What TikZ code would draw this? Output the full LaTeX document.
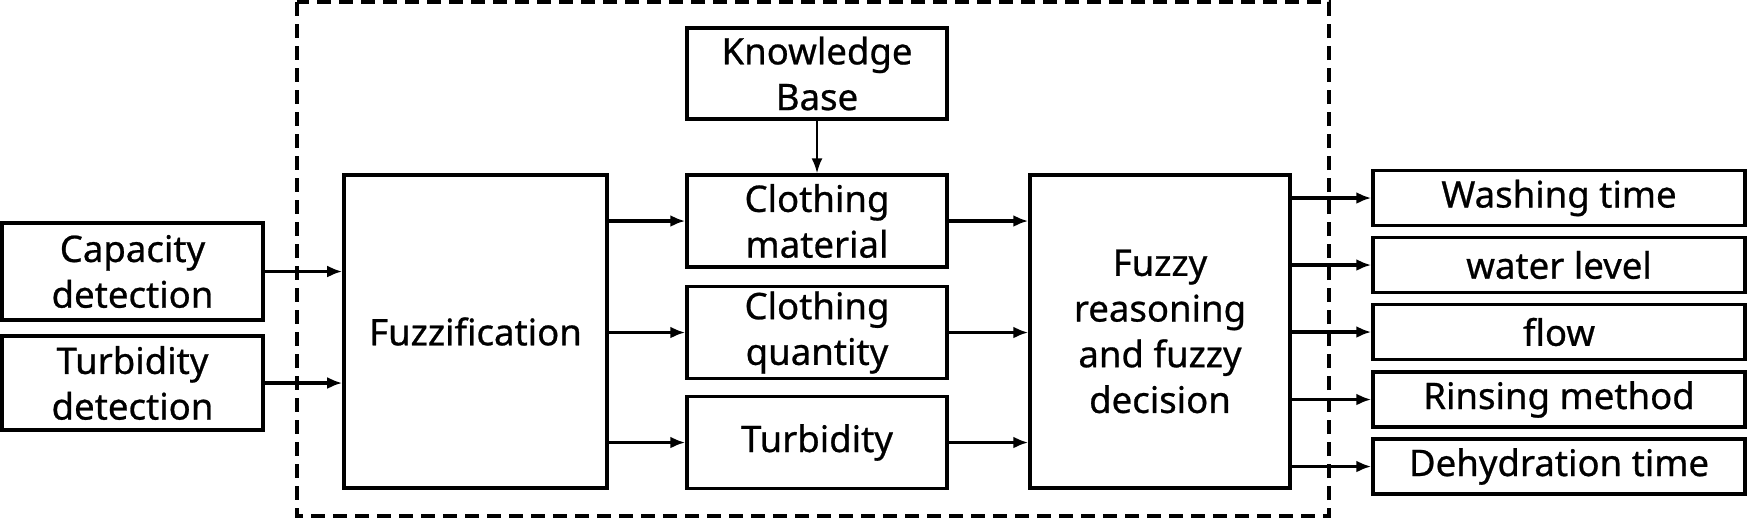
\documentclass[tikz,border=0pt]{standalone}
\usepackage{fontspec}
\setmainfont{Noto Sans}[FakeBold=0.7]
\usetikzlibrary{arrows.meta, positioning, calc}
\tikzset{
  block/.style={
    rectangle, draw=black, fill=white, line width=2pt,
    minimum width=5.2cm, minimum height=1.84cm,
    align=center, inner sep=2pt,
    font=\fontsize{20.8}{26}\selectfont\addfontfeatures{FakeBold=0.7},
  },
  bigblock/.style={block, minimum height=6.26cm},
  outblock/.style={block, minimum width=7.44cm, minimum height=1.1cm},
  arrow/.style={
    -{Latex[length=3mm, width=2.4mm]}, line width=1.8pt, draw=black,
  },
  thinarrow/.style={
    -{Latex[length=3mm, width=2.2mm]}, line width=1.2pt, draw=black,
  },
  frame/.style={
    line width=2pt, draw=black, dash pattern=on 0.28cm off 0.16cm,
  }
}

\begin{document}
\begin{tikzpicture}

  \useasboundingbox (0,0) rectangle (34.94,-10.38);

  % controller boundary
  \draw[frame] (5.94,-0.04) rectangle (26.58,-10.32);

  % inputs
  \node[block, minimum width=5.22cm, minimum height=1.94cm] (cap) at (2.65,-5.43)
    {Capacity\\detection};
  \node[block, minimum width=5.22cm, minimum height=1.88cm] (turb) at (2.65,-7.66)
    {Turbidity\\detection};

  \node[bigblock, minimum width=5.26cm] (fuzz) at (9.51,-6.63) {Fuzzification};

  % fuzzy variables
  \node[block, minimum height=1.82cm] (kb) at (16.34,-1.47) {Knowledge\\Base};
  \node[block] (cmat) at (16.34,-4.42) {Clothing\\material};
  \node[block] (cqty) at (16.34,-6.65) {Clothing\\quantity};
  \node[block] (ctrb) at (16.34,-8.85) {Turbidity};

  \node[bigblock] (dec) at (23.2,-6.63) {Fuzzy\\reasoning\\and fuzzy\\decision};

  % outputs
  \node[outblock] (wtime) at (31.18,-3.96) {Washing time};
  \node[outblock] (wlev)  at (31.18,-5.30) {water level};
  \node[outblock] (flow)  at (31.18,-6.64) {flow};
  \node[outblock] (rinse) at (31.18,-7.99) {Rinsing method};
  \node[outblock] (dehy)  at (31.18,-9.33) {Dehydration time};

  \draw[arrow] (cap.east) -- (cap.east -| fuzz.west);
  \draw[arrow] (turb.east) -- (turb.east -| fuzz.west);

  \draw[arrow] (fuzz.east |- cmat) -- (cmat.west);
  \draw[arrow] (fuzz.east |- cqty) -- (cqty.west);
  \draw[arrow] (fuzz.east |- ctrb) -- (ctrb.west);

  \draw[thinarrow] (kb.south) -- (cmat.north);

  \draw[arrow] (cmat.east) -- (cmat.east -| dec.west);
  \draw[arrow] (cqty.east) -- (cqty.east -| dec.west);
  \draw[arrow] (ctrb.east) -- (ctrb.east -| dec.west);

  \draw[arrow] (dec.east |- wtime) -- (wtime.west);
  \draw[arrow] (dec.east |- wlev) -- (wlev.west);
  \draw[arrow] (dec.east |- flow) -- (flow.west);
  \draw[arrow] (dec.east |- rinse) -- (rinse.west);
  \draw[arrow] (dec.east |- dehy) -- (dehy.west);

\end{tikzpicture}
\end{document}
